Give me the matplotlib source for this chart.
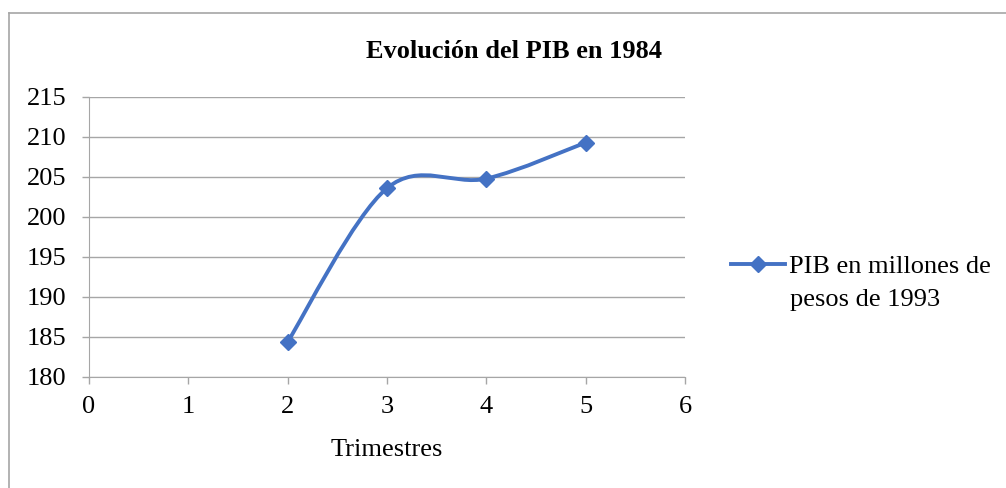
import matplotlib
matplotlib.use("Agg")
import matplotlib.pyplot as plt
from matplotlib.path import Path
from matplotlib.patches import PathPatch
from matplotlib.lines import Line2D
import numpy as np

plt.rcParams['font.family'] = ['Liberation Serif', 'DejaVu Serif']

trimestres = [2, 3, 4, 5]
pib = [184.4, 203.6, 204.8, 209.3]
title = "Evolución del PIB en 1984"
series_label_1 = "PIB en millones de"
series_label_2 = "pesos de 1993"
xlabel = "Trimestres"
xticks = [0, 1, 2, 3, 4, 5, 6]
yticks = [180, 185, 190, 195, 200, 205, 210, 215]

color = '#4472C4'
grid_c = '#a6a6a6'
W, H = 1006, 488
FS = 19
LW = 2.8
MS = 8.5

fig = plt.figure(figsize=(W / 100, H / 100), dpi=100)
# chart-area border (top and left visible)
fig.add_artist(Line2D([8.5 / W, 8.5 / W], [0, 1 - 13 / H], transform=fig.transFigure,
                      color='#a6a6a6', linewidth=1.2))
fig.add_artist(Line2D([8.5 / W, 1], [1 - 13 / H, 1 - 13 / H], transform=fig.transFigure,
                      color='#a6a6a6', linewidth=1.2))

ax = fig.add_axes([89 / W, 1 - 377 / H, (685 - 89) / W, (377 - 97) / H])

# Excel-style smoothed line via cubic Bezier segments
x = np.array(trimestres, dtype=float)
y = np.array(pib, dtype=float)
n = len(x)
verts = [(x[0], y[0])]
codes = [Path.MOVETO]
t = 1 / 6
for i in range(n - 1):
    p0 = np.array([x[max(i - 1, 0)], y[max(i - 1, 0)]])
    p1 = np.array([x[i], y[i]])
    p2 = np.array([x[i + 1], y[i + 1]])
    p3 = np.array([x[min(i + 2, n - 1)], y[min(i + 2, n - 1)]])
    c1 = p1 + (p2 - p0) * t
    c2 = p2 - (p3 - p1) * t
    verts += [tuple(c1), tuple(c2), tuple(p2)]
    codes += [Path.CURVE4] * 3
ax.add_patch(PathPatch(Path(verts, codes), facecolor='none', edgecolor=color,
                       linewidth=LW, capstyle='round', joinstyle='round', zorder=3))
ax.plot(x, y, linestyle='none', marker='D', markersize=MS, color=color, zorder=4)

ax.set_xlim(0, 6)
ax.set_ylim(180, 215)
ax.set_xticks(xticks)
ax.set_yticks(yticks)
ax.tick_params(labelsize=FS, length=5, color=grid_c, width=1)
ax.tick_params(axis='x', pad=9)
ax.tick_params(axis='y', pad=11)
ax.grid(axis='y', color=grid_c, linewidth=1)
ax.set_axisbelow(True)
for s in ['top', 'right']:
    ax.spines[s].set_visible(False)
for s in ['left', 'bottom']:
    ax.spines[s].set_color(grid_c)
ax.set_xlabel(xlabel, fontsize=FS, va='baseline')
ax.xaxis.set_label_coords(0.5, (377 - 456) / (377 - 97))

fig.text(514 / W, 1 - 58 / H, title, fontsize=FS, fontweight='bold', ha='center', va='baseline')

handle = Line2D([], [], color=color, linewidth=LW, marker='D', markersize=MS)
fig.legend([handle], [series_label_1], loc='center left', bbox_to_anchor=(731 / W, 1 - 266 / H),
           frameon=False, fontsize=FS, handlelength=2.05, handletextpad=0.15,
           borderaxespad=0, borderpad=0)
fig.text(790 / W, 1 - 306 / H, series_label_2, fontsize=FS, ha='left', va='baseline')

fig.savefig('out.png', dpi=100)
